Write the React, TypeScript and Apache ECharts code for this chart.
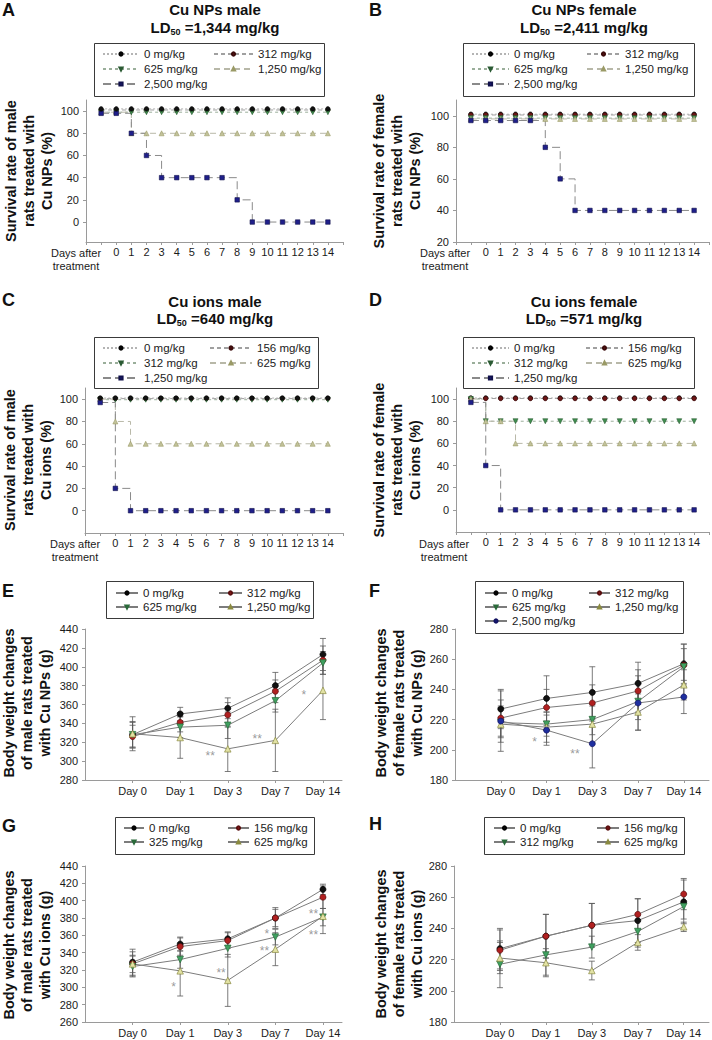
import React, { useEffect, useRef } from 'react';
import * as echarts from 'echarts';

const FONT = '"Liberation Sans", Arial, Helvetica, sans-serif';
const INK = '#1a1a1a';
const AXIS = '#9a9a9a';

// ---------------- Survival panels (A-D) ----------------
const survivalDays = [-1, 0, 1, 2, 3, 4, 5, 6, 7, 8, 9, 10, 11, 12, 13, 14];
const survivalTicks = [0, 20, 40, 60, 80, 100];
const survivalTicksB = [20, 40, 60, 80, 100];
const npDoses = ['0 mg/kg', '312 mg/kg', '625 mg/kg', '1,250 mg/kg', '2,500 mg/kg'];
const ionDoses = ['0 mg/kg', '156 mg/kg', '312 mg/kg', '625 mg/kg', '1,250 mg/kg'];

// A: Cu NPs male
const aSurv0 = [102, 102, 102, 102, 102, 102, 102, 102, 102, 102, 102, 102, 102, 102, 102, 102];
const aSurv312 = [101, 101, 101, 101, 101, 101, 101, 101, 101, 101, 101, 101, 101, 101, 101, 101];
const aSurv625 = [99, 99, 99, 99, 99, 99, 99, 99, 99, 99, 99, 99, 99, 99, 99, 99];
const aSurv1250 = [99, 99, 80, 80, 80, 80, 80, 80, 80, 80, 80, 80, 80, 80, 80, 80];
const aSurv2500 = [98, 98, 80, 60, 40, 40, 40, 40, 40, 20, 0, 0, 0, 0, 0, 0];
// B: Cu NPs female
const bSurv0 = [101, 101, 101, 101, 101, 101, 101, 101, 101, 101, 101, 101, 101, 101, 101, 101];
const bSurv312 = [100.5, 100.5, 100.5, 100.5, 100.5, 100.5, 100.5, 100.5, 100.5, 100.5, 100.5, 100.5, 100.5, 100.5, 100.5, 100.5];
const bSurv625 = [98.5, 98.5, 98.5, 98.5, 98.5, 98.5, 98.5, 98.5, 98.5, 98.5, 98.5, 98.5, 98.5, 98.5, 98.5, 98.5];
const bSurv1250 = [98, 98, 98, 98, 98, 98, 98, 98, 98, 98, 98, 98, 98, 98, 98, 98];
const bSurv2500 = [97, 97, 97, 97, 97, 80, 60, 40, 40, 40, 40, 40, 40, 40, 40, 40];
// C: Cu ions male
const cSurv0 = [101, 101, 101, 101, 101, 101, 101, 101, 101, 101, 101, 101, 101, 101, 101, 101];
const cSurv156 = [100.5, 100.5, 100.5, 100.5, 100.5, 100.5, 100.5, 100.5, 100.5, 100.5, 100.5, 100.5, 100.5, 100.5, 100.5, 100.5];
const cSurv312 = [99.5, 99.5, 99.5, 99.5, 99.5, 99.5, 99.5, 99.5, 99.5, 99.5, 99.5, 99.5, 99.5, 99.5, 99.5, 99.5];
const cSurv625 = [100, 80, 60, 60, 60, 60, 60, 60, 60, 60, 60, 60, 60, 60, 60, 60];
const cSurv1250 = [97, 20, 0, 0, 0, 0, 0, 0, 0, 0, 0, 0, 0, 0, 0, 0];
// D: Cu ions female
const dSurv0 = [101, 101, 101, 101, 101, 101, 101, 101, 101, 101, 101, 101, 101, 101, 101, 101];
const dSurv156 = [100.5, 100.5, 100.5, 100.5, 100.5, 100.5, 100.5, 100.5, 100.5, 100.5, 100.5, 100.5, 100.5, 100.5, 100.5, 100.5];
const dSurv312 = [100, 80, 80, 80, 80, 80, 80, 80, 80, 80, 80, 80, 80, 80, 80, 80];
const dSurv625 = [100, 80, 80, 60, 60, 60, 60, 60, 60, 60, 60, 60, 60, 60, 60, 60];
const dSurv1250 = [97, 40, 0, 0, 0, 0, 0, 0, 0, 0, 0, 0, 0, 0, 0, 0];

// ---------------- Body weight panels (E-H) ----------------
const bwDays = ['Day 0', 'Day 1', 'Day 3', 'Day 7', 'Day 14'];
const npDosesE = ['0 mg/kg', '312 mg/kg', '625 mg/kg', '1,250 mg/kg'];
const ionDosesG = ['0 mg/kg', '156 mg/kg', '325 mg/kg', '625 mg/kg'];
const ionDosesH = ['0 mg/kg', '156 mg/kg', '312 mg/kg', '625 mg/kg'];

// E: Cu NPs male
const eW0 = [328, 350, 356, 380, 413];
const eE0 = [13, 7, 11, 14, 17];
const eW312 = [326, 341, 349, 374, 407];
const eE312 = [12, 10, 13, 12, 15];
const eW625 = [328, 336, 338, 364, 404];
const eE625 = [14, 11, 14, 12, 12];
const eW1250 = [329, 325, 313, 322, 375];
const eE1250 = [18, 22, 24, 33, 31];
const eStars = [[1.63, 308.7, '**'], [2.62, 326.5, '**'], [3.6, 373.6, '*']];
// F: Cu NPs female
const fW0 = [227, 234, 238, 244, 257];
const fE0 = [13, 15, 17, 14, 13];
const fW312 = [221, 228, 231, 239, 256];
const fE312 = [12, 12, 12, 14, 14];
const fW625 = [218, 217, 220, 232, 255];
const fE625 = [10, 8, 10, 12, 12];
const fW1250 = [217, 215, 217, 225, 243];
const fE1250 = [12, 10, 12, 12, 10];
const fW2500 = [219, 213, 204, 231, 235];
const fE2500 = [20, 10, 16, 18, 11];
const fStars = [[0.74, 207, '*'], [1.62, 199.3, '**']];
// G: Cu ions male
const gW0 = [329, 350, 356, 380, 413];
const gE0 = [15, 8, 8, 10, 6];
const gW156 = [327, 347, 354, 380, 404];
const gE156 = [10, 10, 9, 12, 13];
const gW325 = [324, 332, 345, 358, 381];
const gE325 = [12, 10, 10, 9, 10];
const gW625 = [327, 319, 308, 344, 382];
const gE625 = [14, 29, 30, 19, 20];
const gStars = [[0.86, 303.7, '*'], [1.86, 320.1, '**'], [2.82, 365.3, '*'], [2.77, 345.7, '**'], [3.8, 387.9, '**'], [3.8, 363.4, '**']];
// H: Cu ions female
const hW0 = [227, 235, 242, 245, 257];
const hE0 = [13, 14, 14, 14, 14];
const hW156 = [226, 235, 242, 249, 262];
const hE156 = [13, 14, 14, 10, 10];
const hW312 = [217, 223, 228, 238, 254];
const hE312 = [15, 13, 7, 10, 8];
const hW625 = [221, 218, 213, 231, 241];
const hE625 = [10, 9, 6, 5, 3];
const hStars: any[] = [];

// ---------------- styles ----------------
const survStyles = [
  { symbol: 'circle', rot: 0, fill: '#111111', border: '#000000', line: '#b4b4b4', dash: [2, 2], size: 4.5 },
  { symbol: 'circle', rot: 0, fill: '#6e1616', border: '#3a0a0a', line: '#a0a0a0', dash: [4, 3], size: 4.5 },
  { symbol: 'triangle', rot: 180, fill: '#3f8f4f', border: '#2a5a33', line: '#9aae9a', dash: [3, 3], size: 5 },
  { symbol: 'triangle', rot: 0, fill: '#c2c29a', border: '#9a9a66', line: '#b8b8a8', dash: [6, 4], size: 5 },
  { symbol: 'rect', rot: 0, fill: '#1f1f8a', border: '#10104a', line: '#8a8a8a', dash: [8, 4], size: 4.5 },
];
const bwStyles = [
  { symbol: 'circle', rot: 0, fill: '#111111', border: '#000000', size: 6 },
  { symbol: 'circle', rot: 0, fill: '#b02020', border: '#5a0f0f', size: 6 },
  { symbol: 'triangle', rot: 180, fill: '#3fa060', border: '#2a6a3a', size: 6.5 },
  { symbol: 'triangle', rot: 0, fill: '#e2e2a4', border: '#8a8a40', size: 6.5 },
  { symbol: 'circle', rot: 0, fill: '#1f2f9f', border: '#0f0f5f', size: 6 },
];

const panels: any[] = [
  {
    id: 'A', kind: 'surv', title: 'Cu NPs male', ld: '1,344', doses: npDoses,
    values: [aSurv0, aSurv312, aSurv625, aSurv1250, aSurv2500], topFirst: true,
    yMin: -18, yMax: 110, yTicks: survivalTicks,
    yName: 'Survival rate of male\nrats treated with\nCu NPs (%)',
    grid: { left: 86, top: 100, width: 257, height: 142 },
    box: [94, 43, 230, 53], col1: [102, 46.5, 36], col2: [213, 46.5, 39], pitch: 15,
    titlePos: [215, 9.5, 27], letterPos: [2, 9.5], yNamePos: [29, 171], daysPos: [76, 246.5],
  },
  {
    id: 'B', kind: 'surv', title: 'Cu NPs female', ld: '2,411', doses: npDoses,
    values: [bSurv0, bSurv312, bSurv625, bSurv1250, bSurv2500], topFirst: false,
    yMin: 20, yMax: 110, yTicks: survivalTicksB,
    yName: 'Survival rate of female\nrats treated with\nCu NPs (%)',
    grid: { left: 456, top: 100, width: 253, height: 142 },
    box: [463, 43, 231, 53], col1: [471, 46.5, 37], col2: [586, 46.5, 33], pitch: 15,
    titlePos: [584, 9.5, 27], letterPos: [369, 9.5], yNamePos: [397, 171], daysPos: [445, 246.5],
  },
  {
    id: 'C', kind: 'surv', title: 'Cu ions male', ld: '640', doses: ionDoses,
    values: [cSurv0, cSurv156, cSurv312, cSurv625, cSurv1250], topFirst: true,
    yMin: -20, yMax: 110, yTicks: survivalTicks,
    yName: 'Survival rate of male\nrats treated with\nCu ions (%)',
    grid: { left: 85, top: 388, width: 258, height: 145 },
    box: [94, 337, 224, 51], col1: [102, 340.5, 36], col2: [209, 340.5, 42], pitch: 15,
    titlePos: [215, 301, 318.5], letterPos: [2, 300], yNamePos: [28, 460], daysPos: [75, 537],
  },
  {
    id: 'D', kind: 'surv', title: 'Cu ions female', ld: '571', doses: ionDoses,
    values: [dSurv0, dSurv156, dSurv312, dSurv625, dSurv1250], topFirst: false,
    yMin: -20, yMax: 110, yTicks: survivalTicks,
    yName: 'Survival rate of female\nrats treated with\nCu ions (%)',
    grid: { left: 456, top: 388, width: 253, height: 144 },
    box: [463, 337, 231, 51], col1: [471, 340.5, 37], col2: [585, 340.5, 37], pitch: 15,
    titlePos: [584, 301, 318.5], letterPos: [369, 300], yNamePos: [397, 460], daysPos: [444, 537],
  },
  {
    id: 'E', kind: 'bw', doses: npDosesE,
    values: [eW0, eW312, eW625, eW1250], errors: [eE0, eE312, eE625, eE1250], stars: eStars,
    yMin: 280, yMax: 440, xMax: 4.4,
    yName: 'Body weight changes\nof male rats treated\nwith Cu NPs (g)',
    grid: { left: 85, top: 629, width: 257, height: 151 },
    box: [106, 581, 207, 37], col1: [115, 586, 22], col2: [218, 586, 23], pitch: 14,
    letterPos: [2, 590.5], yNamePos: [27, 703],
  },
  {
    id: 'F', kind: 'bw', doses: npDoses,
    values: [fW0, fW312, fW625, fW1250, fW2500], errors: [fE0, fE312, fE625, fE1250, fE2500], stars: fStars,
    yMin: 180, yMax: 280, xMax: 4.55,
    yName: 'Body weight changes\nof female rats treated\nwith Cu NPs (g)',
    grid: { left: 455, top: 629, width: 254, height: 151 },
    box: [475, 581, 208, 52], col1: [484, 586, 22], col2: [588, 586, 21], pitch: 14,
    letterPos: [369, 591], yNamePos: [399, 703],
  },
  {
    id: 'G', kind: 'bw', doses: ionDosesG,
    values: [gW0, gW156, gW325, gW625], errors: [gE0, gE156, gE325, gE625], stars: gStars,
    yMin: 260, yMax: 440, xMax: 4.4,
    yName: 'Body weight changes\nof male rats treated\nwith Cu ions (g)',
    grid: { left: 85, top: 866, width: 257, height: 156 },
    box: [115, 817, 199, 37], col1: [123, 821, 20], col2: [227, 821, 21], pitch: 14,
    letterPos: [2, 826], yNamePos: [27, 945],
  },
  {
    id: 'H', kind: 'bw', doses: ionDosesH,
    values: [hW0, hW156, hW312, hW625], errors: [hE0, hE156, hE312, hE625], stars: hStars,
    yMin: 180, yMax: 280, xMax: 4.55,
    yName: 'Body weight changes\nof female rats treated\nwith Cu ions (g)',
    grid: { left: 454, top: 866, width: 255, height: 156 },
    box: [484, 817, 200, 37], col1: [493, 821, 21], col2: [596, 821, 22], pitch: 14,
    letterPos: [369, 824], yNamePos: [399, 944],
  },
];

const ZW = '\u200b';
const clean = (n: string) => n.replace(/\u200b/g, '');

function buildOption() {
  const grid: any[] = [];
  const xAxis: any[] = [];
  const yAxis: any[] = [];
  const series: any[] = [];
  const legend: any[] = [];
  const graphic: any[] = [];

  panels.forEach((p, gi) => {
    grid.push({ ...p.grid });
    const names = p.doses.map((d: string) => d + ZW.repeat(gi + 1));

    const axisLine = { show: true, onZero: false, lineStyle: { color: AXIS, width: 1 } };
    const axisTickBase = { show: true, length: 3, lineStyle: { color: AXIS } };
    const labelBase = { fontSize: 11, color: INK, fontFamily: FONT };

    if (p.kind === 'surv') {
      xAxis.push({
        gridIndex: gi, type: 'value', min: -2, max: 15, interval: 1,
        axisLine, axisTick: axisTickBase, splitLine: { show: false },
        axisLabel: { ...labelBase, margin: 4, formatter: (v: number) => (v >= 0 && v <= 14 ? String(v) : '') },
      });
      yAxis.push({
        gridIndex: gi, type: 'value', min: p.yMin, max: p.yMax,
        axisLine, axisTick: { ...axisTickBase, customValues: p.yTicks }, splitLine: { show: false },
        axisLabel: { ...labelBase, margin: 7, customValues: p.yTicks },
      });
      p.values.forEach((vals: number[], si: number) => {
        const st = survStyles[si];
        series.push({
          type: 'line', name: names[si], xAxisIndex: gi, yAxisIndex: gi,
          data: survivalDays.map((d, i) => [d, vals[i]]),
          step: 'end', symbol: st.symbol, symbolSize: st.size, symbolRotate: st.rot,
          itemStyle: { color: st.fill, borderColor: st.border, borderWidth: 0.6 },
          lineStyle: { color: st.line, width: 1, type: st.dash },
          z: p.topFirst && si === 0 ? 4 : 2,
        });
      });
    } else {
      xAxis.push({
        gridIndex: gi, type: 'value', min: -1, max: p.xMax,
        axisLine, axisTick: { ...axisTickBase, customValues: [0, 1, 2, 3, 4] }, splitLine: { show: false },
        axisLabel: { ...labelBase, margin: 5, customValues: [0, 1, 2, 3, 4], formatter: (v: number) => bwDays[Math.round(v)] || '' },
      });
      yAxis.push({
        gridIndex: gi, type: 'value', min: p.yMin, max: p.yMax, interval: 20,
        axisLine, axisTick: axisTickBase, splitLine: { show: false },
        axisLabel: { ...labelBase, margin: 7 },
      });
      p.values.forEach((vals: number[], si: number) => {
        const st = bwStyles[si];
        const errs = p.errors[si];
        series.push({
          type: 'custom', xAxisIndex: gi, yAxisIndex: gi, z: 1, silent: true,
          data: vals.map((v, i) => [i, v - errs[i], v + errs[i]]),
          encode: { x: 0, y: [1, 2] },
          renderItem: (params: any, api: any) => {
            const x = api.value(0);
            const lo = api.coord([x, api.value(1)]);
            const hi = api.coord([x, api.value(2)]);
            const w = 3;
            const s = { stroke: '#5a5a5a', lineWidth: 0.8 };
            return {
              type: 'group',
              children: [
                { type: 'line', shape: { x1: lo[0], y1: lo[1], x2: hi[0], y2: hi[1] }, style: s },
                { type: 'line', shape: { x1: lo[0] - w, y1: lo[1], x2: lo[0] + w, y2: lo[1] }, style: s },
                { type: 'line', shape: { x1: hi[0] - w, y1: hi[1], x2: hi[0] + w, y2: hi[1] }, style: s },
              ],
            };
          },
        });
        series.push({
          type: 'line', name: names[si], xAxisIndex: gi, yAxisIndex: gi,
          data: vals.map((v, i) => [i, v]),
          symbol: st.symbol, symbolSize: st.size, symbolRotate: st.rot,
          itemStyle: { color: st.fill, borderColor: st.border, borderWidth: 0.7 },
          lineStyle: { color: '#7c7c7c', width: 1 },
          z: 2,
        });
      });
      if (p.stars.length) {
        series.push({
          type: 'scatter', xAxisIndex: gi, yAxisIndex: gi, z: 3, silent: true,
          symbol: 'circle', symbolSize: 1, itemStyle: { color: 'rgba(0,0,0,0)' },
          data: p.stars,
          label: {
            show: true, position: 'inside', offset: [0, 3], color: '#808080', fontSize: 12, fontFamily: FONT,
            formatter: (q: any) => q.value[2],
          },
        });
      }
    }

    // legends: two columns
    const n = names.length;
    const c1 = names.filter((_: string, i: number) => i % 2 === 0);
    const c2 = names.filter((_: string, i: number) => i % 2 === 1);
    const legendBase = {
      orient: 'vertical', padding: 0, itemGap: 0, itemHeight: 4, selectedMode: false,
      textStyle: { fontSize: 11.5, color: INK, fontFamily: FONT, lineHeight: p.pitch },
      formatter: (nm: string) => clean(nm),
    };
    legend.push({ ...legendBase, left: p.col1[0], top: p.col1[1], itemWidth: p.col1[2], data: c1 });
    if (n > 1) legend.push({ ...legendBase, left: p.col2[0], top: p.col2[1], itemWidth: p.col2[2], data: c2 });

    graphic.push({
      type: 'rect', shape: { x: p.box[0] + 0.5, y: p.box[1] + 0.5, width: p.box[2], height: p.box[3] },
      style: { fill: 'none', stroke: '#3a3a3a', lineWidth: 1 }, z: 1,
    });

    // panel letter
    graphic.push({
      type: 'text', x: p.letterPos[0], y: p.letterPos[1],
      style: { text: p.id, fontSize: 18, fontWeight: 'bold', fontFamily: FONT, fill: '#111', align: 'left', verticalAlign: 'middle' },
    });

    // y-axis name
    graphic.push({
      type: 'text', x: p.yNamePos[0], y: p.yNamePos[1], rotation: Math.PI / 2,
      style: {
        text: p.yName, fontSize: 14.5, fontWeight: 'bold', fontFamily: FONT, fill: '#111',
        align: 'center', verticalAlign: 'middle', lineHeight: 18,
      },
    });

    if (p.kind === 'surv') {
      graphic.push({
        type: 'text', x: p.titlePos[0], y: p.titlePos[1],
        style: { text: p.title, fontSize: 15, fontWeight: 'bold', fontFamily: FONT, fill: '#111', align: 'center', verticalAlign: 'middle' },
      });
      graphic.push({
        type: 'text', x: p.titlePos[0], y: p.titlePos[2],
        style: {
          text: `{b|LD}{s|50}{b| =${p.ld} mg/kg}`, align: 'center', verticalAlign: 'middle',
          rich: {
            b: { fontSize: 15, fontWeight: 'bold', fontFamily: FONT, fill: '#111', lineHeight: 18 },
            s: { fontSize: 9, fontWeight: 'bold', fontFamily: FONT, fill: '#111', lineHeight: 10, verticalAlign: 'bottom' },
          },
        },
      });
      graphic.push({
        type: 'text', x: p.daysPos[0], y: p.daysPos[1],
        style: {
          text: 'Days after\ntreatment', fontSize: 11, fontFamily: FONT, fill: INK,
          align: 'center', verticalAlign: 'top', lineHeight: 13,
        },
      });
    }
  });

  return {
    animation: false,
    backgroundColor: '#ffffff',
    textStyle: { fontFamily: FONT },
    grid, xAxis, yAxis, series, legend, graphic,
  };
}

export default function App() {
  const ref = useRef<HTMLDivElement>(null);
  useEffect(() => {
    document.body.style.margin = '0';
    const chart = echarts.init(ref.current as HTMLDivElement, undefined, { renderer: 'svg' });
    chart.setOption(buildOption() as any);
    return () => chart.dispose();
  }, []);
  return <div ref={ref} style={{ width: 712, height: 1040, background: '#fff' }} />;
}
